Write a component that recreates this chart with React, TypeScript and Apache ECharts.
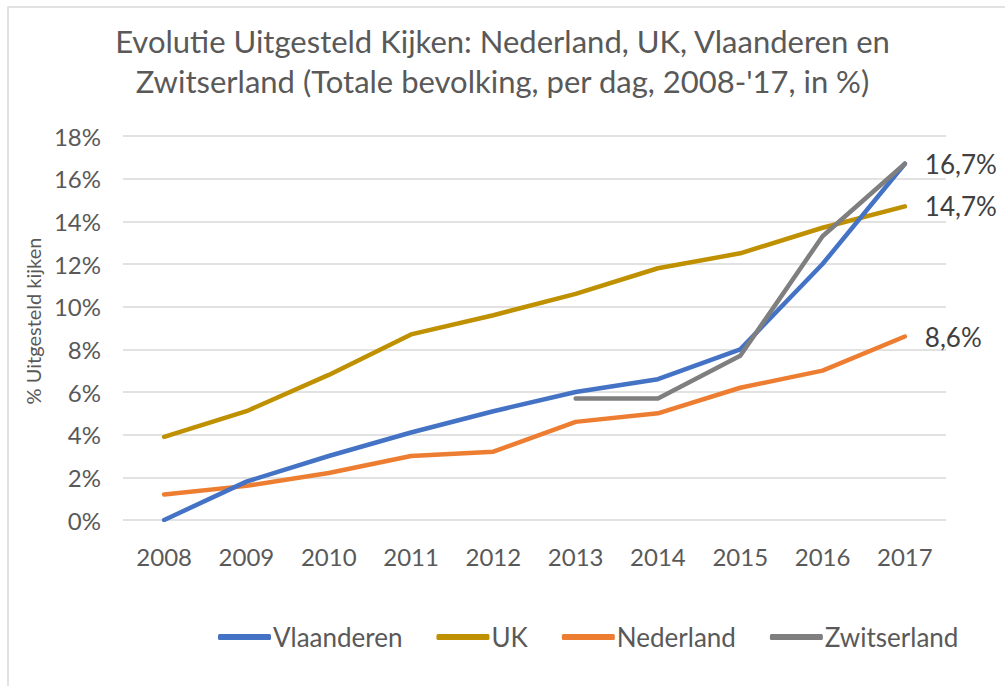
import React, { useEffect, useRef } from "react";
import * as echarts from "echarts";

const years = ["2008", "2009", "2010", "2011", "2012", "2013", "2014", "2015", "2016", "2017"];
const vlaanderen = [0, 1.8, 3.0, 4.1, 5.1, 6.0, 6.6, 8.0, 12.0, 16.7];
const uk = [3.9, 5.1, 6.8, 8.7, 9.6, 10.6, 11.8, 12.5, 13.7, 14.7];
const nederland = [1.2, 1.6, 2.2, 3.0, 3.2, 4.6, 5.0, 6.2, 7.0, 8.6];
const zwitserland = [null, null, null, null, null, 5.7, 5.7, 7.7, 13.3, 16.7];
const yTicks = { min: 0, max: 18, interval: 2 };

const titleText = "Evolutie Uitgesteld Kijken: Nederland, UK, Vlaanderen en\nZwitserland (Totale bevolking, per dag, 2008-'17, in %)";
const FONT = "Lato";

export default function App() {
  const ref = useRef<HTMLDivElement>(null);
  useEffect(() => {
    const chart = echarts.init(ref.current!, null, { renderer: "svg" });
    const mk = (name: string, data: any[], color: string, z: number, showEnd: boolean) => ({
      name,
      type: "line",
      data,
      z,
      symbol: "none",
      connectNulls: false,
      lineStyle: { color, width: 4.5, cap: "round", join: "round" },
      itemStyle: { color },
      endLabel: {
        show: showEnd,
        distance: 20,
        color: "#404040",
        fontSize: 26,
        fontFamily: FONT,
        formatter: (p: any) => String(p.value).replace(".", ",") + "%",
      },
    });
    chart.setOption({
      animation: false,
      backgroundColor: "#ffffff",
      textStyle: { fontFamily: FONT },
      graphic: [
        {
          type: "rect",
          shape: { x: 8, y: 7, width: 1010, height: 700 },
          style: { fill: "none", stroke: "#d9d9d9", lineWidth: 1.5 },
          silent: true,
        },
      ],
      title: {
        text: titleText,
        left: "center",
        top: 16,
        textStyle: {
          fontFamily: FONT,
          fontSize: 31,
          fontWeight: "normal",
          color: "#595959",
          lineHeight: 40,
        },
      },
      legend: {
        top: 624,
        left: 218,
        padding: 0,
        itemWidth: 53,
        itemHeight: 6,
        itemGap: 34,
        icon: "roundRect",
        textStyle: { fontFamily: FONT, fontSize: 26, color: "#595959", padding: [0, 0, 0, -3] },
        data: ["Vlaanderen", "UK", "Nederland", "Zwitserland"],
      },
      grid: { left: 123, right: 59, top: 136, bottom: 166 },
      xAxis: {
        type: "category",
        data: years,
        boundaryGap: true,
        axisLine: { show: false },
        axisTick: { show: false },
        axisLabel: { color: "#595959", fontSize: 24, margin: 24, fontFamily: FONT },
      },
      yAxis: {
        type: "value",
        min: yTicks.min,
        max: yTicks.max,
        interval: yTicks.interval,
        name: "% Uitgesteld kijken",
        nameLocation: "middle",
        nameGap: 80,
        nameTextStyle: { color: "#595959", fontSize: 20, fontFamily: FONT, padding: [0, 0, 0, 14] },
        axisLabel: {
          color: "#595959",
          fontSize: 24,
          margin: 22,
          fontFamily: FONT,
          formatter: (v: number) => v + "%",
        },
        splitLine: { lineStyle: { color: "#d9d9d9", width: 1.5 } },
      },
      series: [
        mk("Vlaanderen", vlaanderen, "#4472C4", 3, false),
        mk("UK", uk, "#BF9000", 2, true),
        mk("Nederland", nederland, "#ED7D31", 1, true),
        mk("Zwitserland", zwitserland, "#7F7F7F", 4, true),
      ],
    });
    return () => chart.dispose();
  }, []);
  return (
    <div
      ref={ref}
      style={{ position: "fixed", left: 0, top: 0, width: 1005, height: 686 }}
    />
  );
}
